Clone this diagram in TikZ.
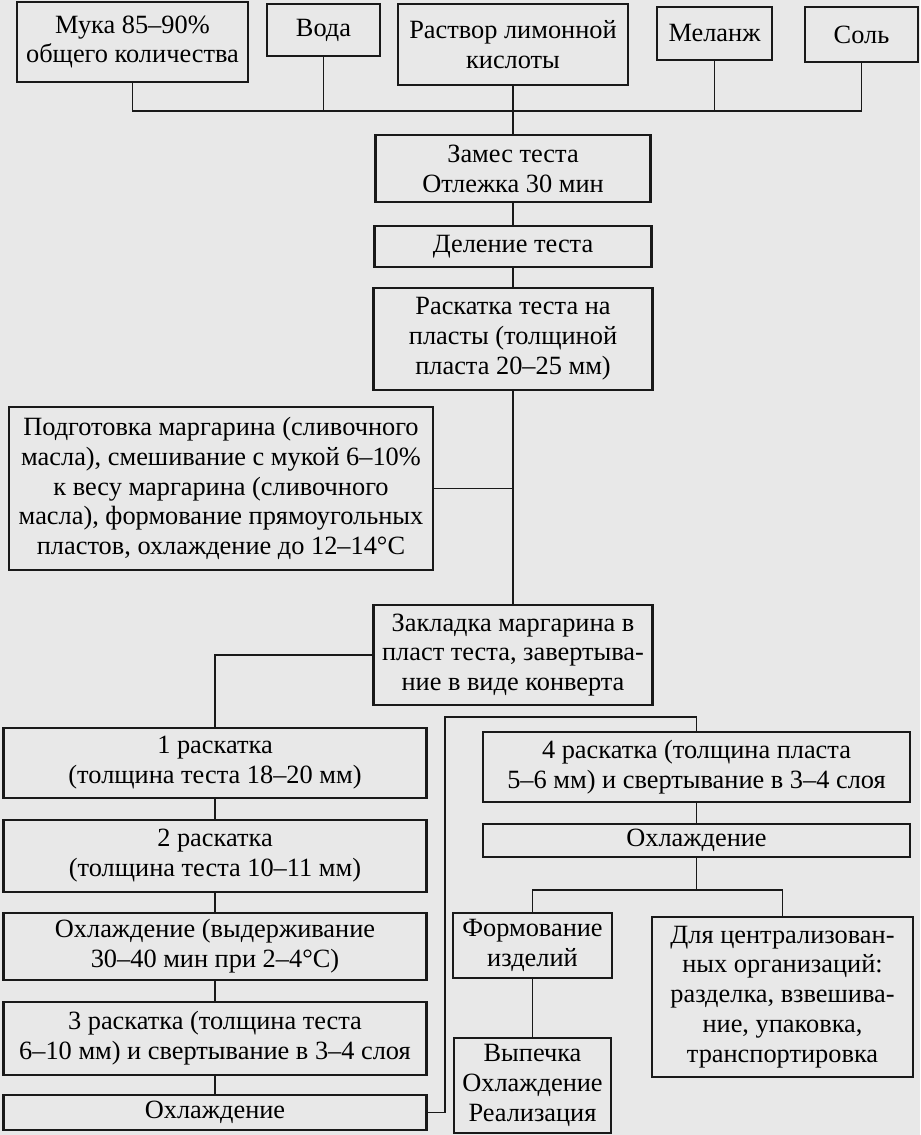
\documentclass[tikz,border=0pt]{standalone}
\usepackage{fontspec}
\setmainfont{Liberation Serif}
\usetikzlibrary{positioning}

\begin{document}
\begin{tikzpicture}[x=0.2mm,y=-0.2mm]

  \fill[black!9] (0,0) rectangle (920,1135);
  \useasboundingbox (0,0) rectangle (920,1135);

  \coordinate (Muka) at (132.5,42);
  \coordinate (Voda) at (323.5,30);
  \coordinate (Rastvor) at (513,44.5);
  \coordinate (Melanzh) at (714.5,33.5);
  \coordinate (Sol) at (861.5,34.5);
  \coordinate (Bus) at (513,111);
  \coordinate (Zames) at (513,168.5);
  \coordinate (Delenie) at (513,246.5);
  \coordinate (Raskatka) at (513,339);
  \coordinate (Podgotovka) at (221,488.5);
  \coordinate (Zakladka) at (513,655);
  \coordinate (Ras1) at (215,763);
  \coordinate (Ras2) at (215,856);
  \coordinate (Vyder) at (215,946.5);
  \coordinate (Ras3) at (215,1038.5);
  \coordinate (OhlLeft) at (215,1112.5);
  \coordinate (Turn) at (445,717);
  \coordinate (Ras4) at (696.5,767);
  \coordinate (OhlRight) at (696.5,840.5);
  \coordinate (Split) at (696.5,890);
  \coordinate (Form) at (532.5,945.5);
  \coordinate (Centr) at (782.5,997);
  \coordinate (Vypechka) at (532.5,1085.5);

  \tikzstyle{sbox}=[draw=black!90,line width=1.2pt,
                    shape=rectangle,inner sep=0pt,
                    align=center,text=black,
                    font=\fontsize{15}{17}\selectfont];
  \tikzstyle{link}=[draw=black!90,line width=1.1pt];

  % syr'e
  \node[sbox,minimum width=46.2mm,minimum height=16mm] (MukaBox) at (Muka)
        {Мука 85–90\%\\общего количества};
  \node[sbox,minimum width=22.6mm,minimum height=10.4mm] (VodaBox) at (Voda) {Вода};
  \node[sbox,minimum width=46mm,minimum height=16.2mm] (RastvorBox) at (Rastvor)
        {Раствор лимонной\\кислоты};
  \node[sbox,minimum width=23mm,minimum height=10.6mm] (MelanzhBox) at (Melanzh) {Меланж};
  \node[sbox,minimum width=22.6mm,minimum height=11mm] (SolBox) at (Sol) {Соль};

  \draw[link] (MukaBox.south) |- (Bus) -| (SolBox.south);
  \draw[link] (VodaBox.south) -- (VodaBox.south |- Bus);
  \draw[link] (MelanzhBox.south) -- (MelanzhBox.south |- Bus);

  % testo
  \node[sbox,minimum width=55mm,minimum height=13.4mm] (ZamesBox) at (Zames)
        {Замес теста\\Отлежка 30 мин};
  \draw[link] (RastvorBox.south) -- (ZamesBox.north);

  \node[sbox,minimum width=55.4mm,minimum height=8.2mm] (DelenieBox) at (Delenie)
        {Деление теста};
  \draw[link] (ZamesBox) -- (DelenieBox);

  \node[sbox,minimum width=55.8mm,minimum height=20.4mm] (RaskatkaBox) at (Raskatka)
        {Раскатка теста на\\пласты (толщиной\\пласта 20–25 мм)};
  \draw[link] (DelenieBox) -- (RaskatkaBox);

  \node[sbox,minimum width=84.8mm,minimum height=32.6mm] (PodgotovkaBox) at (Podgotovka)
        {Подготовка маргарина (сливочного\\масла), смешивание с мукой 6–10\%\\к весу маргарина (сливочного\\масла), формование прямоугольных\\пластов, охлаждение до 12–14°C};

  \node[sbox,minimum width=55.8mm,minimum height=20mm] (ZakladkaBox) at (Zakladka)
        {Закладка маргарина в\\пласт теста, завертыва-\\ние в виде конверта};
  \draw[link] (RaskatkaBox) -- (ZakladkaBox);
  \draw[link] (PodgotovkaBox.east) -- (PodgotovkaBox.east -| RaskatkaBox.south);

  % raskatki
  \node[sbox,minimum width=84.6mm,minimum height=14mm] (Ras1Box) at (Ras1)
        {1 раскатка\\(толщина теста 18–20 мм)};
  \draw[link] (ZakladkaBox.west) -| (Ras1Box.north);

  \node[sbox,minimum width=84.6mm,minimum height=14.4mm] (Ras2Box) at (Ras2)
        {2 раскатка\\(толщина теста 10–11 мм)};
  \draw[link] (Ras1Box) -- (Ras2Box);

  \node[sbox,minimum width=84.6mm,minimum height=13.4mm] (VyderBox) at (Vyder)
        {Охлаждение (выдерживание\\30–40 мин при 2–4°C)};
  \draw[link] (Ras2Box) -- (VyderBox);

  \node[sbox,minimum width=84.6mm,minimum height=14.6mm] (Ras3Box) at (Ras3)
        {3 раскатка (толщина теста\\6–10 мм) и свертывание в 3–4 слоя};
  \draw[link] (VyderBox) -- (Ras3Box);

  \node[sbox,minimum width=84.6mm,minimum height=7mm] (OhlLeftBox) at (OhlLeft)
        {Охлаждение};
  \draw[link] (Ras3Box) -- (OhlLeftBox);

  \node[sbox,minimum width=85.4mm,minimum height=14mm] (Ras4Box) at (Ras4)
        {4 раскатка (толщина пласта\\5–6 мм) и свертывание в 3–4 слоя};
  \draw[link] (OhlLeftBox.east) -| (Turn) -| (Ras4Box.north);

  \node[sbox,minimum width=85.4mm,minimum height=6.6mm] (OhlRightBox) at (OhlRight)
        {Охлаждение};
  \draw[link] (Ras4Box) -- (OhlRightBox);

  % konec
  \node[sbox,minimum width=31.8mm,minimum height=13mm] (FormBox) at (Form)
        {Формование\\изделий};
  \node[sbox,minimum width=52.2mm,minimum height=32mm] (CentrBox) at (Centr)
        {Для централизован-\\ных организаций:\\разделка, взвешива-\\ние, упаковка,\\транспортировка};
  \draw[link] (OhlRightBox.south) -- (Split);
  \draw[link] (FormBox.north) |- (Split) -| (CentrBox.north);

  \node[sbox,minimum width=31.4mm,minimum height=19mm] (VypechkaBox) at (Vypechka)
        {Выпечка\\Охлаждение\\Реализация};
  \draw[link] (FormBox) -- (VypechkaBox);

\end{tikzpicture}
\end{document}
